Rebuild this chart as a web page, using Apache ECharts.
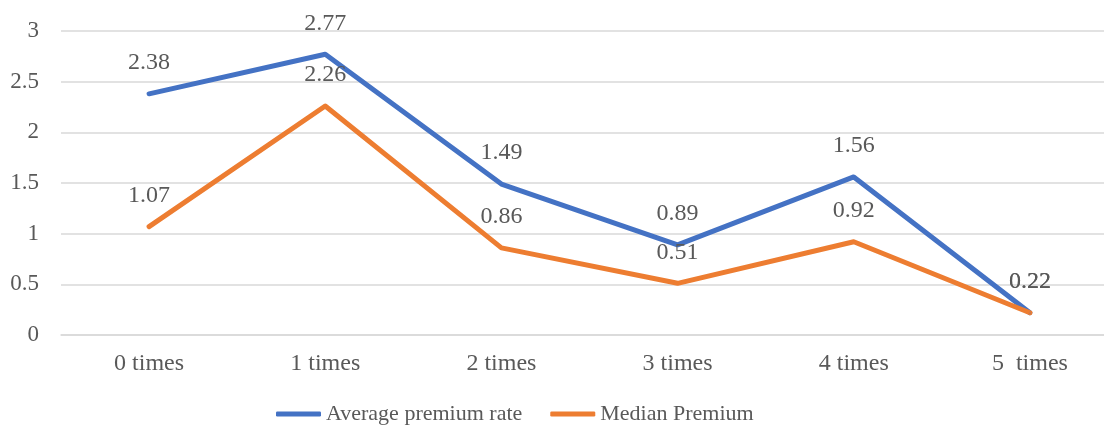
<!DOCTYPE html>
<html>
<head>
<meta charset="utf-8">
<script src="https://cdn.jsdelivr.net/npm/echarts@6/dist/echarts.min.js"></script>
<style>
  html, body { margin: 0; padding: 0; background: #fff; }
  #chart { width: 1104px; height: 428px; }
</style>
</head>
<body>
<div id="chart"></div>
<script>
// Premium by number of occurrences
const categories = ['0 times', '1 times', '2 times', '3 times', '4 times', '5  times'];
const averagePremiumRate = [2.38, 2.77, 1.49, 0.89, 1.56, 0.22];
const medianPremium = [1.07, 2.26, 0.86, 0.51, 0.92, 0.22];
const yTicks = { min: 0, max: 3, interval: 0.5 };

const FONT = '"Liberation Serif", "Times New Roman", serif';
const TEXT = '#595959';
const GRID = '#d9d9d9';

function lineSeries(name, data, color) {
  return {
    name: name,
    type: 'line',
    data: data,
    symbol: 'circle',
    symbolSize: 2,
    itemStyle: { color: color },
    lineStyle: { color: color, width: 5, cap: 'round', join: 'round' },
    label: {
      show: true,
      position: 'top',
      distance: 18,
      color: TEXT,
      fontFamily: FONT,
      fontSize: 24
    },
    emphasis: { disabled: true },
    animation: false
  };
}

const chart = echarts.init(document.getElementById('chart'));
chart.setOption({
  backgroundColor: '#fff',
  grid: {
    left: 61, width: 1057, top: 31, height: 304,
    containLabel: false, outerBoundsMode: 'none'
  },
  xAxis: {
    type: 'category',
    data: categories,
    boundaryGap: true,
    axisLine: { show: true, lineStyle: { color: GRID, width: 1.5 } },
    axisTick: { show: false },
    axisLabel: { color: TEXT, fontFamily: FONT, fontSize: 24, margin: 17 }
  },
  yAxis: {
    type: 'value',
    min: yTicks.min,
    max: yTicks.max,
    interval: yTicks.interval,
    axisLine: { show: false },
    axisTick: { show: false },
    splitLine: { lineStyle: { color: GRID, width: 1.5 } },
    axisLabel: { color: TEXT, fontFamily: FONT, fontSize: 23, margin: 22 }
  },
  legend: {
    top: 398,
    left: 271,
    icon: 'roundRect',
    itemWidth: 45,
    itemHeight: 5,
    itemGap: 28,
    textStyle: { color: TEXT, fontFamily: FONT, fontSize: 22 },
    data: ['Average premium rate', 'Median Premium']
  },
  series: [
    lineSeries('Average premium rate', averagePremiumRate, '#4472C4'),
    lineSeries('Median Premium', medianPremium, '#ED7D31')
  ]
});
</script>
</body>
</html>
